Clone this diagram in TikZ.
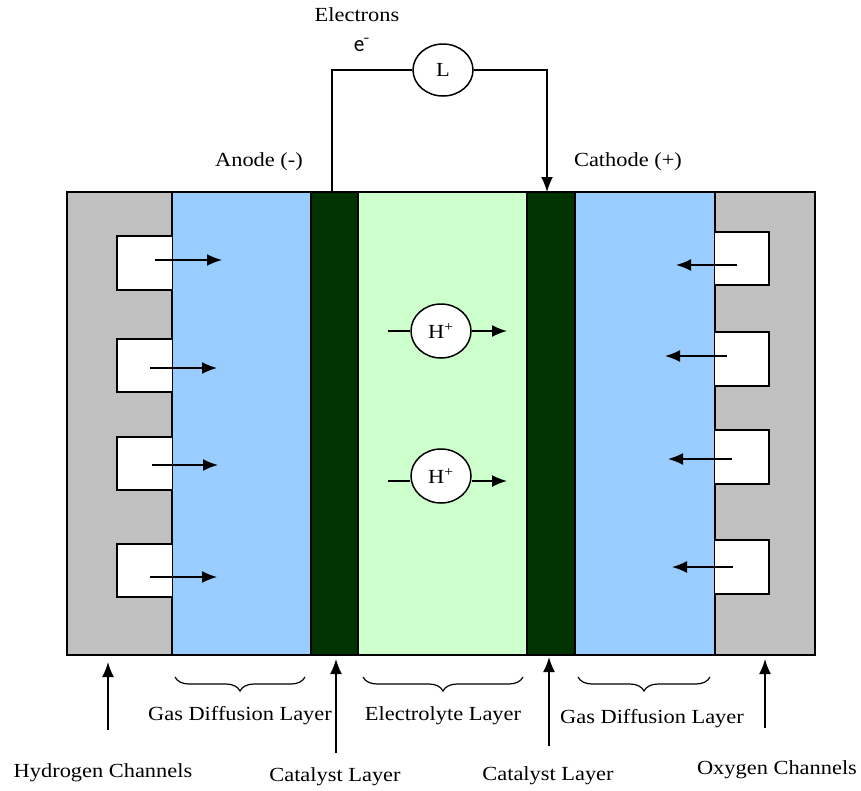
\documentclass[tikz,border=0pt]{standalone}
\usepackage{fontspec}
\setmainfont{Liberation Serif}
\usetikzlibrary{arrows.meta,decorations.pathreplacing,shapes.geometric}
\definecolor{plate}{HTML}{C0C0C0}
\definecolor{gdl}{HTML}{99CCFF}
\definecolor{cat}{HTML}{003300}
\definecolor{elec}{HTML}{CCFFCC}
\newcommand{\tx}[1]{\scalebox{1.12}[1]{#1}}
\begin{document}
\begin{tikzpicture}[x=1pt,y=-1pt,
  lay/.style={draw=black,line width=1.5pt},
  chan/.style={draw=black,fill=white,line width=1.8pt},
  flow/.style={line width=1.6pt,-{Latex[length=15pt,width=12pt]}},
  lbl/.style={font=\fontsize{20}{23}\selectfont,inner sep=0pt},
  brc/.style={decorate,decoration={brace,mirror,amplitude=14pt,aspect=0.5},line width=1.2pt},
  ion/.style={draw=black,fill=white,line width=1.5pt,ellipse,minimum width=60pt,minimum height=54pt,inner sep=0pt}]
\useasboundingbox (0,0) rectangle (861,790);
% layers
\fill[plate] (67,192) rectangle (172,655);
\fill[gdl] (172,192) rectangle (311,655);
\fill[cat] (311,192) rectangle (358,655);
\fill[elec] (358,192) rectangle (527,655);
\fill[cat] (527,192) rectangle (575,655);
\fill[gdl] (575,192) rectangle (715,655);
\fill[plate] (715,192) rectangle (815,655);
\draw[lay] (67,192) rectangle (815,655);
\foreach \x in {172,311,358,527,575,715} \draw[lay] (\x,192) -- (\x,655);
% channels left
\draw[chan] (172,236) -- (117,236) -- (117,290) -- (172,290);
\draw[chan] (172,339) -- (117,339) -- (117,392) -- (172,392);
\draw[chan] (172,437) -- (117,437) -- (117,490) -- (172,490);
\draw[chan] (172,544) -- (117,544) -- (117,597) -- (172,597);
% channels right
\draw[chan] (715,232) -- (769,232) -- (769,285) -- (715,285);
\draw[chan] (715,332) -- (769,332) -- (769,386) -- (715,386);
\draw[chan] (715,430) -- (769,430) -- (769,484) -- (715,484);
\draw[chan] (715,540) -- (769,540) -- (769,594) -- (715,594);
% flow arrows left
\coordinate (a1s) at (155,260); \coordinate (a1e) at (222,260);
\coordinate (a2s) at (150,368); \coordinate (a2e) at (217,368);
\coordinate (a3s) at (152,465); \coordinate (a3e) at (218,465);
\coordinate (a4s) at (150,577); \coordinate (a4e) at (217,577);
\foreach \n in {1,2,3,4} \draw[flow] (a\n s) -- (a\n e);
% flow arrows right
\coordinate (b1s) at (737,265); \coordinate (b1e) at (676,265);
\coordinate (b2s) at (727,356); \coordinate (b2e) at (665,356);
\coordinate (b3s) at (732,459); \coordinate (b3e) at (668,459);
\coordinate (b4s) at (733,567); \coordinate (b4e) at (672,567);
\foreach \n in {1,2,3,4} \draw[flow] (b\n s) -- (b\n e);
% protons
\node[ion,lbl] (h1) at (441,331) {\tx{H\textsuperscript{+}}};
\node[ion,lbl] (h2) at (441,476) {\tx{H\textsuperscript{+}}};
\coordinate (h1a) at (388,331); \coordinate (h1b) at (507,331);
\coordinate (h2a) at (388,481); \coordinate (h2b) at (507,481);
\draw[line width=1.5pt] (h1a) -- (h1.west);
\draw[flow] (h1.east) -- (h1b);
\draw[line width=1.5pt] (h2a) -- (h2.west|-h2a);
\draw[flow] (h2.east|-h2b) -- (h2b);
% external circuit
\node[ion,lbl,minimum height=52pt] (L) at (443,70) {\tx{L}};
\coordinate (wl) at (332,192); \coordinate (wr) at (547,192);
\draw[line width=1.5pt] (wl) |- (L.west);
\draw[flow] (L.east) -| (wr);
\node[lbl] (elab) at (357,15) {\tx{Electrons}};
\node[font=\fontsize{25}{27}\selectfont\sffamily,inner sep=0pt] (eminus) at (362,45) {e\textsuperscript{-}};
\node[lbl] (anode) at (259,162) {\tx{Anode (-)}};
\node[lbl] (cathode) at (628,162) {\tx{Cathode (+)}};
% braces
\draw[brc] (175,677) -- (305,677);
\draw[brc] (363,677) -- (523,677);
\draw[brc] (578,677) -- (710,677);
\node[lbl] (gdl1) at (240,716) {\tx{Gas Diffusion Layer}};
\node[lbl] (el) at (443,716) {\tx{Electrolyte Layer}};
\node[lbl] (gdl2) at (652,719) {\tx{Gas Diffusion Layer}};
% bottom labels and arrows
\node[lbl] (hch) at (103,773) {\tx{Hydrogen Channels}};
\node[lbl] (cat1) at (335,777) {\tx{Catalyst Layer}};
\node[lbl] (cat2) at (548,776) {\tx{Catalyst Layer}};
\node[lbl] (och) at (777,770) {\tx{Oxygen Channels}};
\coordinate (p1s) at (108,730); \coordinate (p1e) at (108,662);
\coordinate (p2s) at (336,753); \coordinate (p2e) at (336,659);
\coordinate (p3s) at (549,746); \coordinate (p3e) at (549,657);
\coordinate (p4s) at (765,728); \coordinate (p4e) at (765,659);
\foreach \n in {1,2,3,4} \draw[flow] (p\n s) -- (p\n e);
\end{tikzpicture}
\end{document}
